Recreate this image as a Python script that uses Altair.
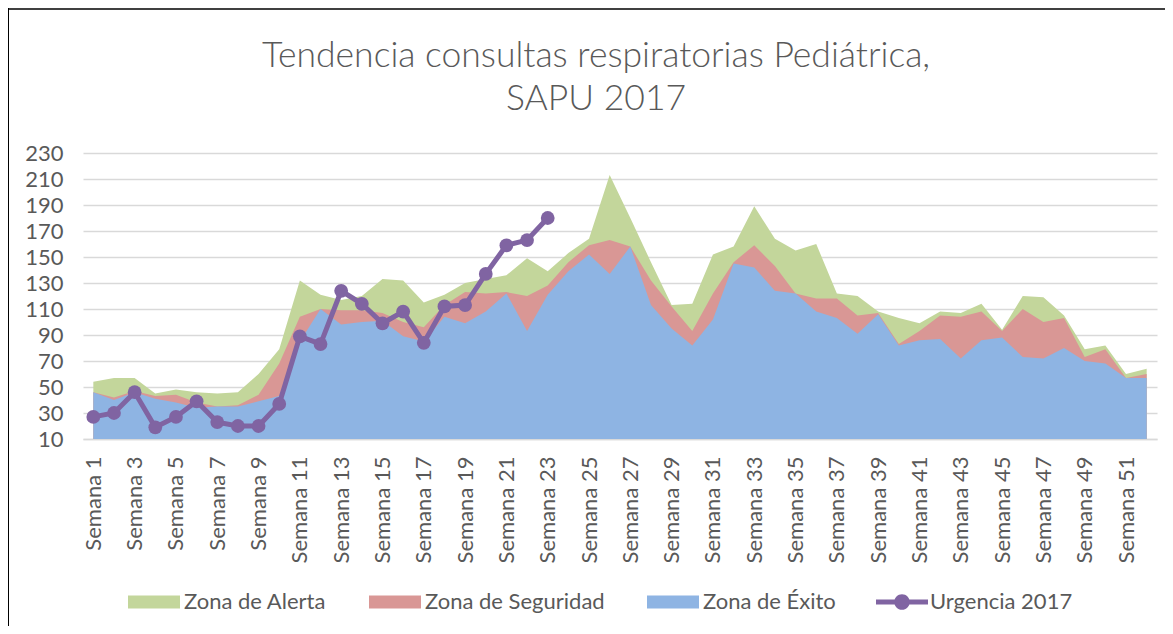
import altair as alt
import pandas as pd

# ---------------- data ----------------
semanas = [f"Semana {i}" for i in range(1, 53)]
semanas_eje = semanas[::2]

zonas = ["Zona de Alerta", "Zona de Seguridad", "Zona de Éxito"]
colores_zona = ["#C3D69B", "#D99795", "#8EB4E3"]

alerta = [54, 57, 57, 45, 48, 46, 45, 46, 60, 79, 132, 121, 117, 120, 133, 132,
          115, 121, 130, 133, 136, 149, 139, 153, 164, 213, 180, 146, 113, 114,
          152, 158, 189, 164, 155, 160, 122, 120, 108, 103, 99, 108, 107, 114,
          94, 120, 119, 105, 79, 82, 60, 64]
seguridad = [46, 42, 47, 43, 44, 38, 35, 36, 44, 68, 104, 110, 109, 109, 107, 100,
             96, 113, 123, 122, 123, 120, 128, 146, 159, 163, 158, 132, 112, 93,
             122, 146, 159, 143, 122, 118, 118, 105, 107, 83, 93, 105, 104, 108,
             93, 110, 100, 103, 73, 79, 57, 60]
exito = [46, 40, 46, 41, 38, 34, 35, 35, 39, 43, 85, 110, 98, 100, 101, 89,
         85, 104, 99, 108, 122, 93, 121, 139, 152, 137, 158, 113, 95, 82,
         102, 145, 142, 124, 122, 108, 103, 91, 106, 82, 86, 87, 72, 86,
         88, 73, 72, 80, 70, 68, 57, 57]

serie_urgencia = "Urgencia 2017"
urgencia = [27, 30, 46, 19, 27, 39, 23, 20, 20, 37, 89, 83, 124, 114, 99, 108,
            84, 112, 113, 137, 159, 163, 180]

y_ticks = [10, 30, 50, 70, 90, 110, 130, 150, 170, 190, 210, 230]

titulo = ["Tendencia consultas respiratorias Pediátrica,", "SAPU 2017"]

# ---------------- tables ----------------
rows = []
for zona, vals in zip(zonas, [alerta, seguridad, exito]):
    for s, v in zip(semanas, vals):
        rows.append({"semana": s, "zona": zona, "valor": v})
df_z = pd.DataFrame(rows)
df_u = pd.DataFrame({"semana": semanas[:len(urgencia)], "valor": urgencia,
                     "serie": serie_urgencia})

FONT = "Lato"
GRAY = "#595959"
GRID = "#D9D9D9"
PURPLE = "#8064A2"

W, H = 1074, 286

x = alt.X("semana:O", sort=semanas,
          scale=alt.Scale(type="point", padding=0.5),
          axis=alt.Axis(title=None, values=semanas_eje, labelAngle=-90,
                        ticks=False, labelPadding=17, labelFontSize=22,
                        labelFont=FONT, labelColor=GRAY, domainColor=GRID,
                        domainWidth=1.5, grid=False))
y = alt.Y("valor:Q",
          scale=alt.Scale(domain=[10, 230], nice=False, zero=False),
          axis=alt.Axis(title=None, values=y_ticks, ticks=False, domain=False,
                        labelPadding=20, labelFontSize=22, labelFont=FONT,
                        labelColor=GRAY, gridColor=GRID, gridWidth=1.5))

legend_z = alt.Legend(title=None, orient="none", legendX=45, legendY=423,
                      direction="horizontal",
                      symbolType="M-1,-0.25H1V0.25H-1Z", symbolSize=2704,
                      symbolStrokeWidth=0, symbolOpacity=1,
                      labelFontSize=22, labelFont=FONT, labelColor=GRAY,
                      labelLimit=400, columnPadding=42, labelOffset=4)
fill = alt.Fill("zona:N", scale=alt.Scale(domain=zonas, range=colores_zona),
                legend=legend_z)

layers = []
for zona in zonas:
    layers.append(
        alt.Chart(df_z).transform_filter(alt.datum.zona == zona)
        .mark_area(opacity=1)
        .encode(x=x, y=y, y2=alt.datum(10), fill=fill)
    )

legend_u = alt.Legend(title=None, orient="none", legendX=793, legendY=423,
                      direction="horizontal",
                      symbolType="M-1,-0.1H1V0.1H-1Z M0.3,0A0.3,0.3 0 1,1 -0.3,0A0.3,0.3 0 1,1 0.3,0Z",
                      symbolSize=2704, symbolStrokeWidth=0,
                      symbolFillColor=PURPLE, symbolOpacity=1,
                      labelFontSize=22, labelFont=FONT, labelColor=GRAY,
                      labelLimit=400, labelOffset=2)

line = alt.Chart(df_u).mark_line(strokeWidth=5).encode(
    x=x, y=y,
    stroke=alt.Stroke("serie:N", scale=alt.Scale(domain=[serie_urgencia], range=[PURPLE]),
                      legend=legend_u))
pts = alt.Chart(df_u).mark_circle(size=190, opacity=1, color=PURPLE).encode(x=x, y=y)

deco = pd.DataFrame({"a": [0]})
border_left = alt.Chart(deco).mark_rule(color="#000000", strokeWidth=2).encode(
    x=alt.value(-75), y=alt.value(-145), y2=alt.value(480))
border_top = alt.Chart(deco).mark_rule(color="#000000", strokeWidth=1.5).encode(
    y=alt.value(-144), x=alt.value(-75), x2=alt.value(1090))

chart = alt.layer(*layers, line, pts, border_left, border_top).properties(
    width=W, height=H,
    autosize=alt.AutoSizeParams(type="none"),
    padding={"left": 75, "top": 145, "right": 8, "bottom": 187},
    title=alt.TitleParams(text=titulo, fontSize=35.5, font=FONT, fontWeight=300,
                          color=GRAY, anchor="middle", frame="group", dx=-24,
                          offset=-110, lineHeight=43),
    background="white",
).configure_view(stroke=None)

chart.save("out.html", embed_options={"renderer": "svg", "actions": False})
